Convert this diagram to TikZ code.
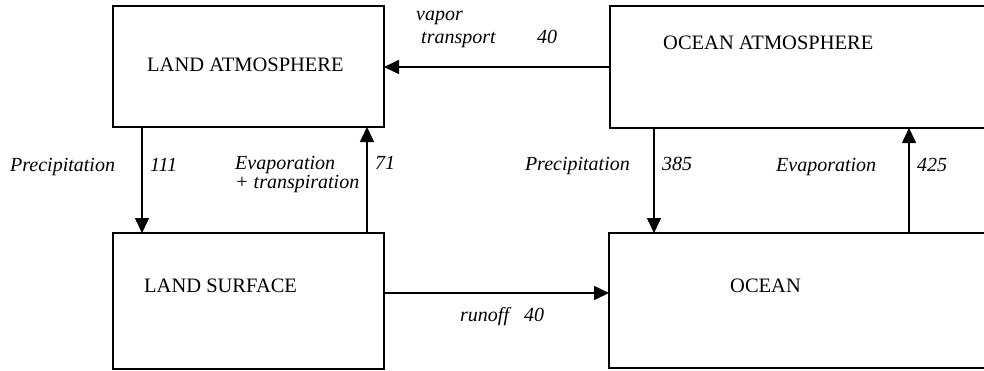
\documentclass[tikz,border=0pt]{standalone}
\usepackage{fontspec}
\setmainfont{Liberation Serif}
\usetikzlibrary{arrows.meta}
\begin{document}
\begin{tikzpicture}[x=1pt,y=-1pt,
  box/.style={draw, line width=1.8pt, inner sep=0pt, outer sep=0pt, anchor=north west},
  boxname/.style={font=\fontsize{20.5}{22}\selectfont, inner sep=0pt, anchor=west},
  lbl/.style={font=\fontsize{20}{22}\selectfont\itshape, inner sep=0pt, anchor=base west},
  flow/.style={line width=1.6pt, -{Triangle[length=15pt,width=14pt]}}]
\useasboundingbox (0,0) rectangle (984,370);
\clip (0,0) rectangle (984,370);
% boxes
\node[box, minimum width=271pt, minimum height=121pt] (la) at (113,6) {};
\node[box, minimum width=400pt, minimum height=122pt] (oa) at (610,6) {};
\node[box, minimum width=271pt, minimum height=136pt] (ls) at (113,233) {};
\node[box, minimum width=400pt, minimum height=135pt] (oc) at (609,233) {};
% box names
\node[boxname] (tla) at (147,65) {LAND ATMOSPHERE};
\node[boxname] (toa) at (663,43) {OCEAN ATMOSPHERE};
\node[boxname] (tls) at (144,286) {LAND SURFACE};
\node[boxname] (toc) at (730,286) {OCEAN};
% connectors
\draw[flow] (oa.west) -- (oa.west -| la.east);
\draw[flow] ([yshift=8pt]ls.east) -- ([yshift=8pt]ls.east -| oc.west);
\draw[flow] ([xshift=29pt]la.south west) -- ([xshift=29pt]la.south west |- ls.north);
\draw[flow] ([xshift=-17pt]ls.north east) -- ([xshift=-17pt]ls.north east |- la.south);
\draw[flow] ([xshift=44pt]oa.south west) -- ([xshift=44pt]oa.south west |- oc.north);
\draw[flow] ([xshift=300pt]oc.north west) -- ([xshift=300pt]oc.north west |- oa.south);
% labels
\node[lbl] (vap1) at (416,20) {vapor};
\node[lbl] (vap2) at (421,43) {transport};
\node[lbl] (vapv) at (537,43) {40};
\node[lbl] (lp) at (10,171) {Precipitation};
\node[lbl] (lpv) at (150,171) {111};
\node[lbl] (le1) at (235,169) {Evaporation};
\node[lbl] (le2) at (235,188) {+ transpiration};
\node[lbl] (lev) at (375,169) {71};
\node[lbl, anchor=base east] (op) at (630,170) {Precipitation};
\node[lbl] (opv) at (662,170) {385};
\node[lbl] (oe) at (776,171) {Evaporation};
\node[lbl] (oev) at (917,171) {425};
\node[lbl] (ro) at (460,321) {runoff\hspace{15pt}40};
\end{tikzpicture}
\end{document}
